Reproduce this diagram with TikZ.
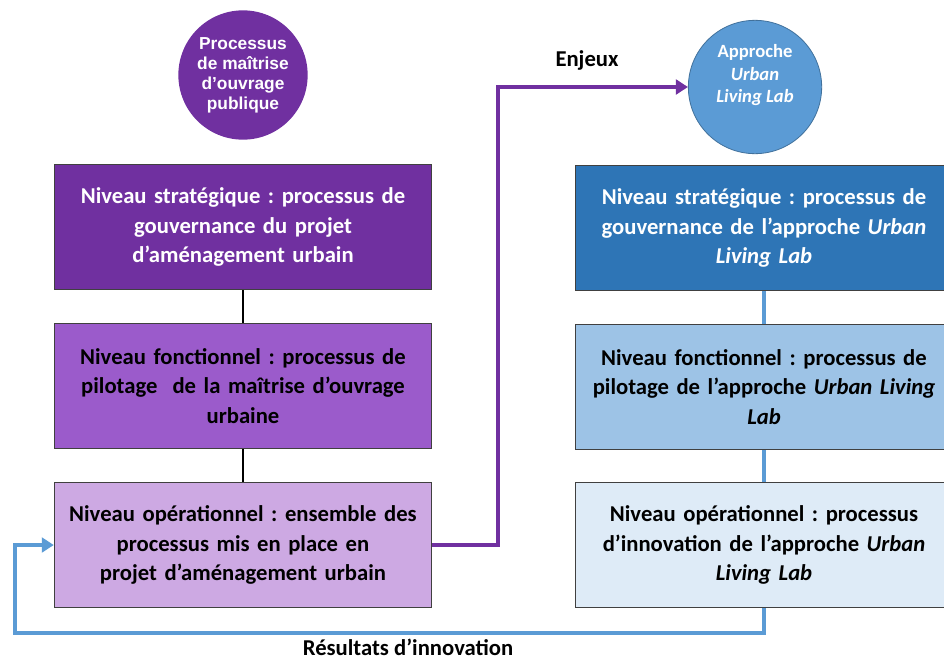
\documentclass[tikz,border=0pt]{standalone}
\usepackage{fontspec}
\setmainfont{Carlito}
\newfontfamily\circlefont{Liberation Sans}
\usetikzlibrary{arrows.meta}
\frenchspacing
\definecolor{MoaDark}{HTML}{7030A0}
\definecolor{MoaMid}{HTML}{9B5BCB}
\definecolor{MoaLight}{HTML}{CDA9E3}
\definecolor{UllDark}{HTML}{2E75B6}
\definecolor{UllMid}{HTML}{9DC3E6}
\definecolor{UllLight}{HTML}{DEEBF7}
\definecolor{UllCircle}{HTML}{5B9BD5}
\definecolor{UllBorder}{HTML}{41719C}
\definecolor{BoxBorder}{HTML}{404040}

\begin{document}
\begin{tikzpicture}[
    x=0.75pt, y=-0.75pt,
    levelbox/.style={
      draw=BoxBorder,
      line width=0.8pt,
      minimum width=283pt,
      minimum height=94pt,
      text width=280pt,
      inner sep=0pt,
      align=center,
      font=\bfseries\fontsize{17}{22}\selectfont
    },
    moacircle/.style={
      circle,
      fill=MoaDark,
      minimum size=97pt,
      inner sep=0pt,
      text=white,
      align=center,
      font=\circlefont\bfseries\fontsize{13}{15}\selectfont
    },
    ullcircle/.style={
      circle,
      fill=UllCircle,
      draw=UllBorder,
      line width=0.6pt,
      minimum size=100pt,
      inner sep=0pt,
      text=white,
      align=center,
      font=\bfseries\fontsize{14}{17}\selectfont
    },
    flowlabel/.style={font=\bfseries\fontsize{17}{20}\selectfont}
  ]
  \useasboundingbox (0,0) rectangle (944,661);

  % maitrise d'ouvrage publique
  \node[moacircle] (moaC) at (243,75) {\mbox{}\\[-5pt]Processus\\de maîtrise\\d’ouvrage\\publique};
  \node[levelbox, fill=MoaDark, text=white] (stratL) at (243,227)
    {Niveau stratégique : processus de\\gouvernance du projet\\d’aménagement urbain};
  \node[levelbox, fill=MoaMid] (fonctL) at (243,386)
    {Niveau fonctionnel : processus de\\pilotage~ de la maîtrise d’ouvrage\\urbaine};
  \node[levelbox, fill=MoaLight] (opL) at (243,545)
    {Niveau opérationnel : ensemble des\\processus mis en place en\\projet d’aménagement urbain};

  % urban living lab
  \node[ullcircle] (ullC) at (755,87) {Approche\\\textit{Urban}\\\textit{Living Lab}\\[3pt]\mbox{}};
  \node[levelbox, fill=UllDark, text=white] (stratR) at (764,228)
    {Niveau stratégique : processus de\\gouvernance de l’approche \textit{Urban}\\\textit{Living Lab}};
  \node[levelbox, fill=UllMid] (fonctR) at (764,387)
    {Niveau fonctionnel : processus de\\pilotage de l’approche \textit{Urban Living}\\\textit{Lab}};
  \node[levelbox, fill=UllLight] (opR) at (764,545)
    {Niveau opérationnel : processus\\d’innovation de l’approche \textit{Urban}\\\textit{Living Lab}};

  % liens entre niveaux
  \draw[line width=2.2pt] (stratL) -- (fonctL);
  \draw[line width=2.2pt] (fonctL) -- (opL);
  \draw[UllCircle, line width=2.4pt] (stratR) -- (fonctR);
  \draw[UllCircle, line width=2.4pt] (fonctR) -- (opR);

  % flux
  \draw[MoaDark, line width=3pt, -{Triangle[length=9pt,width=11pt]}]
    (opL.east) -- ++(66,0) |- (ullC.west);
  \node[flowlabel] (enjeux) at (587,60) {Enjeux};

  \coordinate (retour) at (15,633);
  \draw[UllCircle, line width=3pt, -{Triangle[length=9pt,width=11pt]}]
    (opR.south) |- (retour) |- (opL.west);
  \node[flowlabel] (resultats) at (408,647) {Résultats d’innovation};
\end{tikzpicture}
\end{document}
